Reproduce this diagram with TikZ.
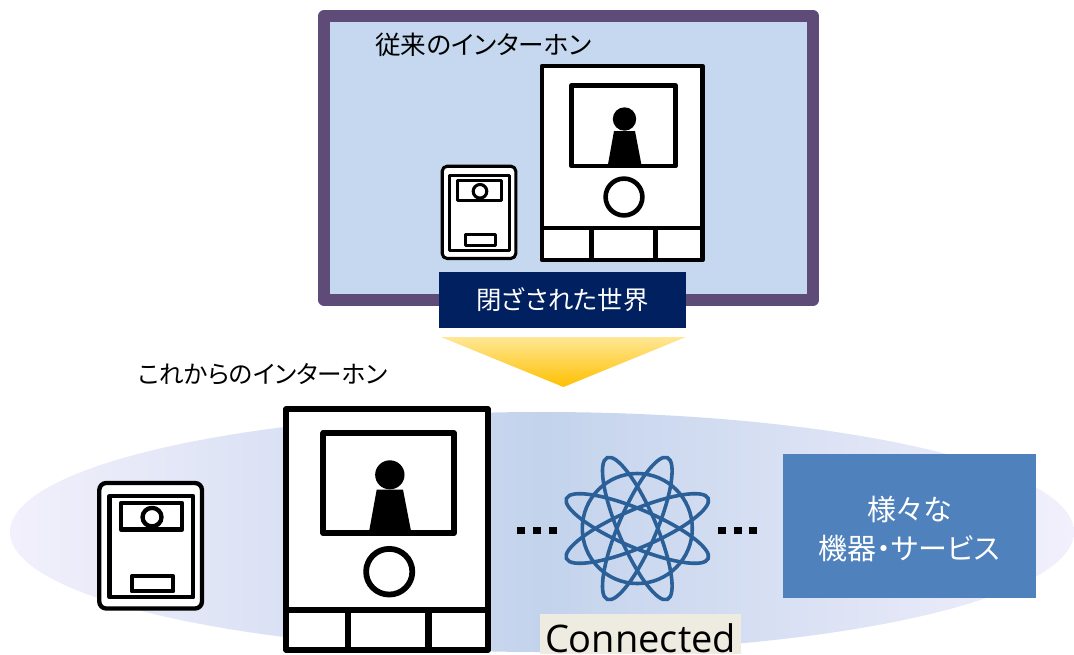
\documentclass[tikz,border=0pt]{standalone}
\usepackage{fontspec}
\setmainfont{Open Sans}
\newfontfamily\cjk[RawFeature=+palt]{Noto Sans CJK JP}
\definecolor{framepurple}{HTML}{5F4B78}
\definecolor{panelblue}{HTML}{C5D8F0}
\definecolor{navy}{HTML}{002060}
\definecolor{steel}{HTML}{4F81BD}
\definecolor{atomblue}{HTML}{2A5F98}
\definecolor{cream}{HTML}{EEECE1}
\definecolor{palelav}{HTML}{F2F0FC}
\definecolor{midblue}{HTML}{C3D3EC}
\definecolor{arrowtop}{HTML}{FFE795}
\definecolor{arrowbot}{HTML}{FFC000}
\tikzset{
  px/.style={x=1pt,y=-1pt},
  lbl/.style={inner sep=0pt,text=black},
  wtxt/.style={inner sep=0pt,text=white,align=center},
  icon/.style={draw=black,fill=white,line join=round},
  orbit/.style={draw=atomblue,line width=3.6pt},
  dotmark/.style={fill=black},
}
\newcommand{\monitoricon}[4]{%
 \begin{scope}[shift={(#1pt,-#2pt)},x=#3pt,y=-#4pt]
  \draw[icon,line width=#3*4.8pt] (0,0) rectangle (160.5,194);
  \draw[icon,line width=#3*4.6pt] (29.5,19.5) rectangle (133.5,100);
  \fill (82.5,53) circle [x radius=11.7,y radius=11.7];
  \fill (72,65) -- (93,65) -- (99.7,100) -- (65.7,100) -- cycle;
  \draw[icon,line width=#3*4.6pt] (82,131) circle [x radius=18.4,y radius=18.4];
  \draw[black,line width=#3*4.8pt] (0,162) -- (160.5,162) (49.5,162) -- (49.5,192) (113.3,162) -- (113.3,192);
 \end{scope}}
\newcommand{\stationicon}[4]{%
 \begin{scope}[shift={(#1pt,-#2pt)},x=#3pt,y=-#4pt]
  \draw[icon,rounded corners=#3*5pt,line width=#3*3.1pt] (0,0) rectangle (73.6,92.3);
  \draw[icon,line width=#3*3.1pt] (7.3,9.6) rectangle (67.3,84);
  \draw[icon,line width=#3*3.1pt] (15.6,14.6) rectangle (59.3,34.3);
  \draw[icon,line width=#3*3.1pt] (37.8,25.1) circle [x radius=6.8,y radius=6.8];
  \draw[icon,line width=#3*3.1pt] (23.3,68.6) rectangle (53,79.6);
 \end{scope}}
\begin{document}
\begin{tikzpicture}[px]
\useasboundingbox (0,0) rectangle (1074,654);
\clip (0,0) rectangle (1074,654);
% top panel
\draw[draw=framepurple,fill=panelblue,line width=12pt,line join=round] (324.3,16) rectangle (813,300);
\node[lbl,anchor=west,font=\cjk\fontsize{25.6}{30}\selectfont] (oldlabel) at (375,45) {従来のインターホン};
\monitoricon{542}{66}{1}{1}
\stationicon{442.2}{166.2}{1}{1}
\node[fill=navy,minimum width=247pt,minimum height=56pt,wtxt,font=\cjk\fontsize{25.4}{30}\selectfont] (closed) at (562.5,300) {閉ざされた世界};
% arrow
\shade[top color=arrowtop,bottom color=arrowbot] (441,337) -- (686,337) -- (563.5,387) -- cycle;
\node[lbl,anchor=west,font=\cjk\fontsize{24.6}{30}\selectfont] (newlabel) at (138,374) {これからのインターホン};
% ellipse
\shade[left color=palelav,right color=palelav,middle color=midblue] (542,532) ellipse (532 and 120);
\monitoricon{286.3}{409}{1.255}{1.242}
\stationicon{99.3}{483}{1.395}{1.36}
% atom
\foreach \a in {67,23,-23,-67}{
  \draw[orbit,rotate around={-\a:(637.3,528.5)}] (637.3,528.5) ellipse (77 and 19);
}
\draw[orbit] (637.3,528.5) circle (55);
\node[fill=cream,inner xsep=0pt,inner ysep=2pt,minimum width=201pt,text height=36pt,text depth=0pt,font=\fontsize{38}{40}\selectfont,text=black] (conn) at (640.5,634) {Connected};
\node[fill=steel,minimum width=253pt,minimum height=144pt] (svc) at (909.5,526) {};
\node[wtxt,font=\cjk\fontsize{29}{39}\selectfont] (svctext) at (909.5,529) {様々な\\機器・サービス};
\foreach \x in {521,536.5,552.5,722,737.5,753}{
  \fill[dotmark] (\x-4,526.5) rectangle (\x+4,534);
}
\end{tikzpicture}
\end{document}
